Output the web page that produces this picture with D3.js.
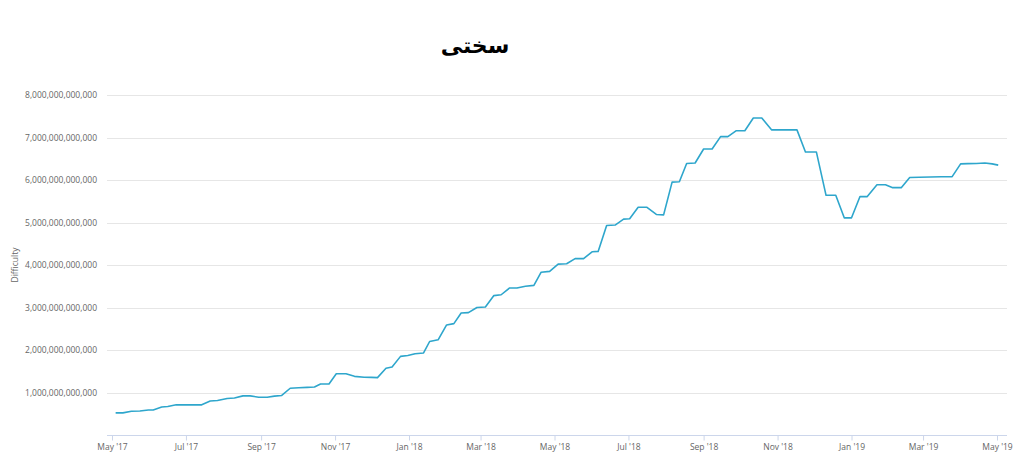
<!DOCTYPE html>
<html>
<head>
<meta charset="utf-8">
<script src="https://cdn.jsdelivr.net/npm/d3@7"></script>
<style>
  html, body { margin: 0; padding: 0; background: #fff; }
  svg { display: block; }
</style>
</head>
<body>
<svg id="chart" width="1024" height="462"></svg>
<script>
// ---- data ----
const chartTitle = "سختی";
const yAxisTitle = "Difficulty";
const dates = [
  "2017-05-04","2017-05-10","2017-05-17","2017-05-24","2017-05-31","2017-06-04","2017-06-11","2017-06-16",
  "2017-06-23","2017-06-30","2017-07-07","2017-07-14","2017-07-21","2017-07-27","2017-08-04","2017-08-10",
  "2017-08-17","2017-08-23","2017-08-30","2017-09-06","2017-09-12","2017-09-18","2017-09-25","2017-10-02",
  "2017-10-09","2017-10-15","2017-10-20","2017-10-27","2017-11-02","2017-11-10","2017-11-17","2017-11-25",
  "2017-12-01","2017-12-06","2017-12-13","2017-12-18","2017-12-25","2017-12-31","2018-01-06","2018-01-13",
  "2018-01-18","2018-01-25","2018-02-01","2018-02-07","2018-02-13","2018-02-19","2018-02-26","2018-03-05",
  "2018-03-12","2018-03-18","2018-03-25","2018-03-31","2018-04-07","2018-04-14","2018-04-20","2018-04-27",
  "2018-05-04","2018-05-11","2018-05-18","2018-05-25","2018-06-01","2018-06-06","2018-06-13","2018-06-20",
  "2018-06-27","2018-07-02","2018-07-09","2018-07-16","2018-07-24","2018-07-30","2018-08-06","2018-08-12",
  "2018-08-18","2018-08-25","2018-09-01","2018-09-08","2018-09-15","2018-09-21","2018-09-28","2018-10-05",
  "2018-10-12","2018-10-19","2018-10-27","2018-11-03","2018-11-10","2018-11-17","2018-11-24","2018-12-03",
  "2018-12-11","2018-12-19","2018-12-26","2019-01-01","2019-01-08","2019-01-14","2019-01-22","2019-01-29",
  "2019-02-04","2019-02-11","2019-02-18","2019-02-26","2019-03-07","2019-03-16","2019-03-25","2019-04-01",
  "2019-04-07","2019-04-14","2019-04-21","2019-04-27","2019-05-02"
];
// difficulty in trillions
const difficultyT = [
  0.52, 0.52, 0.56, 0.565, 0.59, 0.59, 0.66, 0.67,
  0.71, 0.71, 0.71, 0.71, 0.80, 0.81, 0.86, 0.87,
  0.92, 0.92, 0.89, 0.89, 0.915, 0.93, 1.10, 1.11,
  1.12, 1.13, 1.20, 1.20, 1.44, 1.44, 1.38, 1.36,
  1.355, 1.35, 1.57, 1.60, 1.85, 1.87, 1.91, 1.93,
  2.20, 2.24, 2.59, 2.62, 2.87, 2.88, 3.00, 3.01,
  3.28, 3.30, 3.46, 3.46, 3.50, 3.52, 3.83, 3.85,
  4.02, 4.03, 4.15, 4.15, 4.31, 4.32, 4.93, 4.94,
  5.08, 5.09, 5.36, 5.36, 5.19, 5.18, 5.95, 5.96,
  6.39, 6.40, 6.73, 6.73, 7.02, 7.02, 7.16, 7.16,
  7.46, 7.46, 7.18, 7.18, 7.18, 7.18, 6.66, 6.66,
  5.64, 5.64, 5.11, 5.11, 5.61, 5.61, 5.89, 5.89,
  5.82, 5.82, 6.06, 6.065, 6.07, 6.075, 6.08, 6.38,
  6.385, 6.39, 6.40, 6.38, 6.35
];
const yTickValuesT = [1, 2, 3, 4, 5, 6, 7, 8];
const xDomain = ["2017-05-01", "2019-05-01"];

// ---- layout ----
const svg = d3.select("#chart");
const plotLeft = 107, plotRight = 1007, plotTop = 95, plotBottom = 435;
const parse = d3.utcParse("%Y-%m-%d");

const x = d3.scaleUtc()
  .domain(xDomain.map(parse))
  .range([112, 997]);
const y = d3.scaleLinear()
  .domain([0, 8e12])
  .range([plotBottom, plotTop]);

const data = dates.map((d, i) => ({ date: parse(d), value: difficultyT[i] * 1e12 }));

// title
svg.append("text")
  .attr("x", 475).attr("y", 53)
  .attr("text-anchor", "middle")
  .style("font-family", "'DejaVu Sans', sans-serif")
  .style("font-weight", "bold")
  .style("font-size", "22px")
  .style("fill", "#000")
  .text(chartTitle);

// gridlines
svg.append("g").selectAll("line")
  .data(yTickValuesT)
  .join("line")
  .attr("x1", plotLeft).attr("x2", plotRight)
  .attr("y1", d => Math.round(y(d * 1e12)) + 0.5)
  .attr("y2", d => Math.round(y(d * 1e12)) + 0.5)
  .attr("stroke", "#e6e6e6")
  .attr("stroke-width", 1);

// y axis labels
const yAxis = d3.axisLeft(y)
  .tickValues(yTickValuesT.map(v => v * 1e12))
  .tickFormat(d3.format(",.0f"))
  .tickSize(0)
  .tickPadding(0);
const gy = svg.append("g")
  .attr("transform", `translate(97,0)`)
  .call(yAxis);
gy.select(".domain").remove();
gy.selectAll("text")
  .style("font-family", "'Open Sans', sans-serif")
  .style("font-size", "8.5px")
  .style("fill", "#666");

// y axis title
svg.append("text")
  .attr("transform", "translate(18,265) rotate(-90)")
  .attr("text-anchor", "middle")
  .style("font-family", "'Open Sans', sans-serif")
  .style("font-size", "8.5px")
  .style("fill", "#666")
  .text(yAxisTitle);

// x axis
svg.append("line")
  .attr("x1", plotLeft).attr("x2", plotRight)
  .attr("y1", plotBottom + 0.5).attr("y2", plotBottom + 0.5)
  .attr("stroke", "#ccd6eb");
const xAxis = d3.axisBottom(x)
  .ticks(d3.utcMonth.every(2))
  .tickFormat(d3.utcFormat("%b '%y"))
  .tickSize(5)
  .tickPadding(3);
const gx = svg.append("g")
  .attr("transform", `translate(0,${plotBottom + 0.5})`)
  .call(xAxis);
gx.select(".domain").remove();
gx.selectAll(".tick line").attr("stroke", "#ccd6eb");
gx.selectAll("text")
  .style("font-family", "'Open Sans', sans-serif")
  .style("font-size", "8.5px")
  .style("fill", "#666");

// line
const line = d3.line()
  .x(d => x(d.date))
  .y(d => y(d.value));
svg.append("path")
  .datum(data)
  .attr("d", line)
  .attr("fill", "none")
  .attr("stroke", "#2ea6cc")
  .attr("stroke-width", 1.6)
  .attr("stroke-linejoin", "round");
</script>
</body>
</html>
